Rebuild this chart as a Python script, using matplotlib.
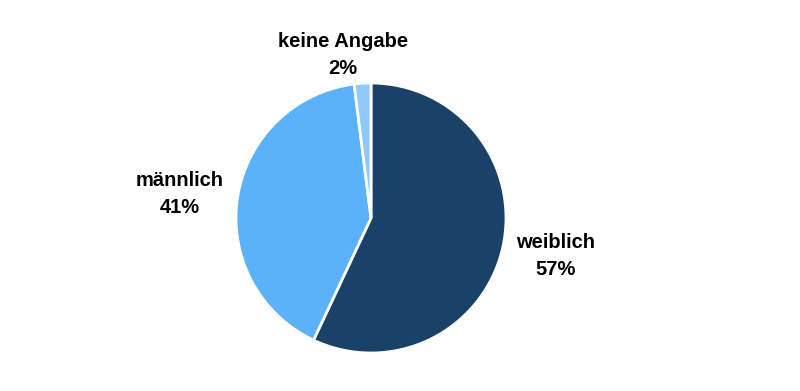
import matplotlib
matplotlib.use("Agg")
from matplotlib import pyplot as plt

# Daten
kategorien = ["weiblich", "männlich", "keine Angabe"]
anteile = [57, 41, 2]
farben = ["#1a4168", "#5cb2fa", "#8fc9f8"]

# Label-Positionen in Pixeln (x, y von oben)
label_pos = [(556, 256), (180, 194), (343, 55)]

plt.rcParams['font.family'] = ['Liberation Sans', 'DejaVu Sans']

fig = plt.figure(figsize=(8, 3.91), dpi=100)
ax = fig.add_axes([0, 0, 1, 1])
ax.set_xlim(0, 800)
ax.set_ylim(0, 391)
ax.set_aspect('equal')
ax.axis('off')

ax.pie(anteile, colors=farben, startangle=90, counterclock=False,
       center=(371, 391 - 218), radius=135,
       wedgeprops=dict(edgecolor='white', linewidth=2))
ax.set_xlim(0, 800)
ax.set_ylim(0, 391)

for name, wert, (x, y) in zip(kategorien, anteile, label_pos):
    ax.text(x, 391 - y, f"{name}\n{wert}%", ha='center', va='center',
            fontsize=14.5, fontweight='bold', color='black', linespacing=1.5)

fig.savefig("out.png", dpi=100)
